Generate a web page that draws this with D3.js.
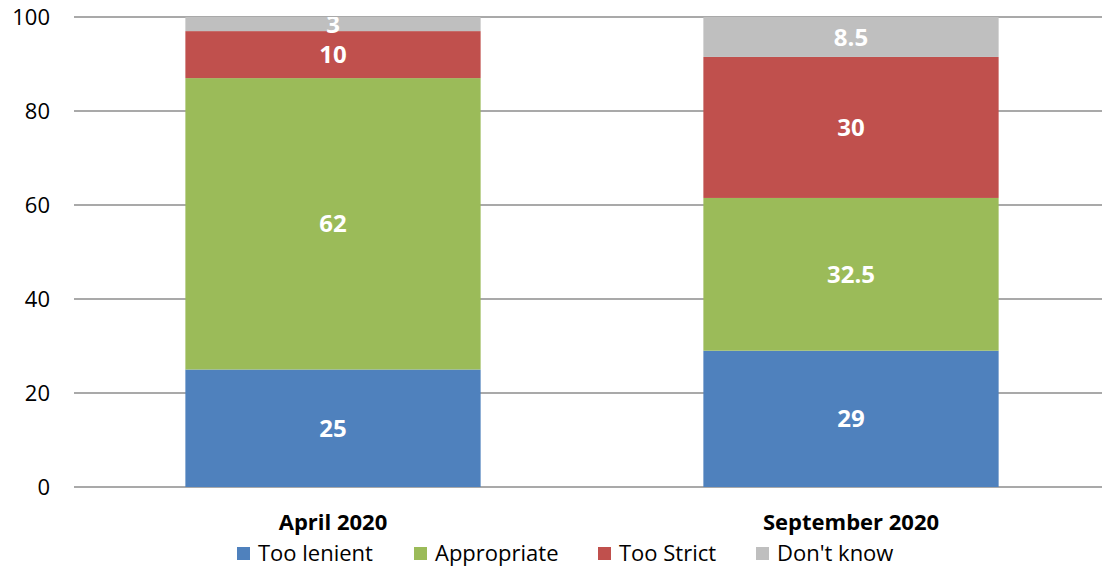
<!DOCTYPE html>
<html><head><meta charset="utf-8">
<script src="https://cdn.jsdelivr.net/npm/d3@7"></script>
<style>body{margin:0;background:#fff}svg{display:block}</style>
</head><body>
<svg id="c" width="1102" height="567"></svg>
<script>
const categories = ["April 2020", "September 2020"];
const seriesNames = ["Too lenient", "Appropriate", "Too Strict", "Don't know"];
const tooLenient = [25, 29];
const appropriate = [62, 32.5];
const tooStrict = [10, 30];
const dontKnow = [3, 8.5];
const yTicks = [0, 20, 40, 60, 80, 100];
const colors = ["#4f81bd", "#9bbb59", "#c0504d", "#bfbfbf"];

const seriesValues = [tooLenient, appropriate, tooStrict, dontKnow];
const rows = categories.map((c, i) => {
  const r = {cat: c};
  seriesNames.forEach((s, j) => r[s] = seriesValues[j][i]);
  return r;
});
const stack = d3.stack().keys(seriesNames)(rows);

const svg = d3.select("#c");
const font = "'Open Sans', sans-serif";
const x = d3.scaleBand().domain(categories).range([74, 1110]).paddingInner(0.43).paddingOuter(0.215);
const y = d3.scaleLinear().domain([0, 100]).range([487, 17]);

svg.append("defs").append("clipPath").attr("id", "plot")
  .append("rect").attr("x", 0).attr("y", 17).attr("width", 1102).attr("height", 480);

// gridlines
svg.append("g").selectAll("line").data(yTicks).join("line")
  .attr("x1", 74).attr("x2", 1110)
  .attr("y1", d => y(d)).attr("y2", d => y(d))
  .attr("stroke", "#8c8c8c").attr("stroke-width", 1.6);

// y axis labels
const yAxis = svg.append("g").attr("transform", "translate(50,0)")
  .call(d3.axisLeft(y).tickValues(yTicks).tickSize(0).tickPadding(0));
yAxis.select(".domain").remove();
yAxis.selectAll("text").attr("font-family", font).attr("font-size", 22).attr("fill", "#000");

// bars
const layers = svg.append("g").selectAll("g").data(stack).join("g")
  .attr("fill", (d, i) => colors[i]);
layers.selectAll("rect").data(d => d).join("rect")
  .attr("x", d => x(d.data.cat)).attr("width", x.bandwidth())
  .attr("y", d => y(d[1])).attr("height", d => y(d[0]) - y(d[1]));

// value labels
const lbl = svg.append("g").attr("clip-path", "url(#plot)");
stack.forEach(layer => {
  layer.forEach(d => {
    const v = d[1] - d[0];
    lbl.append("text")
      .attr("x", x(d.data.cat) + x.bandwidth() / 2)
      .attr("y", (y(d[0]) + y(d[1])) / 2)
      .attr("dy", "0.36em")
      .attr("text-anchor", "middle")
      .attr("font-family", font).attr("font-weight", "bold").attr("font-size", 24)
      .attr("fill", "#fff")
      .text(v);
  });
});

// x axis category labels
const xAxis = svg.append("g").attr("transform", "translate(0,522)")
  .call(d3.axisBottom(x).tickSize(0).tickPadding(0));
xAxis.select(".domain").remove();
xAxis.selectAll("text").attr("font-family", font).attr("font-weight", "bold")
  .attr("font-size", 22).attr("fill", "#000").attr("dy", "0.36em");

// legend
const legendX = [237, 414, 598, 756];
const lg = svg.append("g").selectAll("g").data(seriesNames).join("g")
  .attr("transform", (d, i) => `translate(${legendX[i]},547)`);
lg.append("rect").attr("width", 13).attr("height", 13).attr("fill", (d, i) => colors[i]);
lg.append("text").attr("x", 21).attr("y", 6.5).attr("dy", "0.36em")
  .attr("font-family", font).attr("font-size", 22).attr("fill", "#000").text(d => d);
</script>
</body></html>
